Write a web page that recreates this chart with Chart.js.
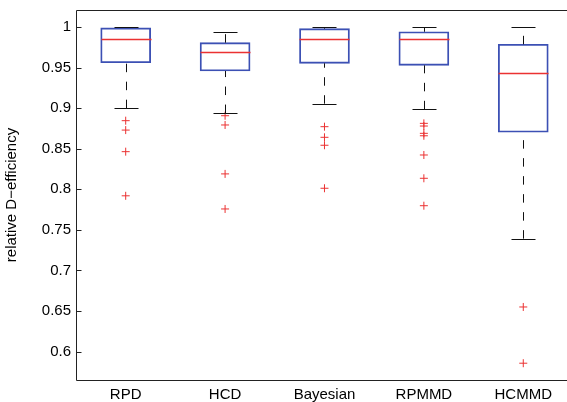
<!DOCTYPE html>
<html>
<head>
<meta charset="utf-8">
<script src="https://cdn.jsdelivr.net/npm/chart.js@4.4.0/dist/chart.umd.min.js"></script>
<style>
  html, body { margin: 0; padding: 0; background: #fff; overflow: hidden; }
  canvas { display: block; }
</style>
</head>
<body>
<canvas id="boxChart" width="567" height="402"></canvas>
<script>
// values
const categories = ['RPD', 'HCD', 'Bayesian', 'RPMMD', 'HCMMD'];
const whiskerLow = [0.900, 0.894, 0.9055, 0.8986, 0.7392];
const boxLow = [0.956, 0.9458, 0.9553, 0.9528, 0.8703];
const medians = [0.985, 0.9696, 0.985, 0.985, 0.9437];
const boxHigh = [0.999, 0.9807, 0.998, 0.9942, 0.9787];
const whiskerHigh = [1.0, 0.9935, 1.0, 1.0, 0.9996];
const outliers = [
    [0.8846, 0.873, 0.8464, 0.792],
    [0.8907, 0.8793, 0.819, 0.7758],
    [0.8772, 0.8641, 0.8543, 0.8013],
    [0.8813, 0.878, 0.869, 0.866, 0.8423, 0.8136, 0.7798],
    [0.655, 0.5857]
];
const yTickValues = [0.6, 0.65, 0.7, 0.75, 0.8, 0.85, 0.9, 0.95, 1];

const blue = 'rgb(60, 80, 180)';
const red = 'rgb(235, 50, 50)';

const boxData = categories.map((c, i) => ({ x: i + 1, y: [boxLow[i], boxHigh[i]] }));
const outlierData = [];
outliers.forEach((list, i) => list.forEach(v => outlierData.push({ x: i + 1, y: v })));

// whiskers, caps, medians and the frame, MATLAB style
const boxExtras = {
    id: 'boxExtras',
    afterDatasetsDraw(chart) {
        const ctx = chart.ctx;
        const xs = chart.scales.x;
        const ys = chart.scales.y;
        const area = chart.chartArea;
        const half = 25;
        const capHalf = 12;
        ctx.save();
        categories.forEach((c, i) => {
            const cx = Math.round(xs.getPixelForValue(i + 1)) + 0.5;
            // whiskers, dashed, drawn from the lower value upward
            ctx.strokeStyle = '#111';
            ctx.lineWidth = 1;
            ctx.setLineDash([8.5, 9.5]);
            ctx.beginPath();
            ctx.moveTo(cx, ys.getPixelForValue(whiskerLow[i]));
            ctx.lineTo(cx, ys.getPixelForValue(boxLow[i]));
            ctx.moveTo(cx, ys.getPixelForValue(boxHigh[i]));
            ctx.lineTo(cx, ys.getPixelForValue(whiskerHigh[i]));
            ctx.stroke();
            ctx.setLineDash([]);
            // caps
            ctx.beginPath();
            [whiskerLow[i], whiskerHigh[i]].forEach(v => {
                const py = Math.round(ys.getPixelForValue(v)) + 0.5;
                ctx.moveTo(cx - capHalf, py);
                ctx.lineTo(cx + capHalf, py);
            });
            ctx.stroke();
            // median
            ctx.strokeStyle = red;
            ctx.lineWidth = 1.4;
            const my = Math.round(ys.getPixelForValue(medians[i])) + 0.5;
            ctx.beginPath();
            ctx.moveTo(cx - half, my);
            ctx.lineTo(cx + half, my);
            ctx.stroke();
        });
        // frame (right side falls outside the picture)
        const l = Math.round(area.left) + 0.5;
        const t = Math.round(area.top) + 0.5;
        const b = Math.round(area.bottom) + 0.5;
        ctx.strokeStyle = '#222';
        ctx.lineWidth = 1;
        ctx.beginPath();
        ctx.moveTo(area.right, t);
        ctx.lineTo(l, t);
        ctx.lineTo(l, b);
        ctx.lineTo(area.right, b);
        // inward y ticks
        ys.ticks.forEach(tk => {
            const py = Math.round(ys.getPixelForValue(tk.value)) + 0.5;
            ctx.moveTo(l, py);
            ctx.lineTo(l + 5, py);
        });
        ctx.stroke();
        ctx.restore();
    }
};

const ctx = document.getElementById('boxChart').getContext('2d');
const myChart = new Chart(ctx, {
    type: 'bar',
    data: {
        datasets: [
            {
                type: 'bar',
                data: boxData,
                backgroundColor: 'rgba(0,0,0,0)',
                borderColor: blue,
                borderWidth: 1.2,
                borderSkipped: false,
                barThickness: 50
            },
            {
                type: 'scatter',
                data: outlierData,
                pointStyle: 'cross',
                radius: 4,
                borderColor: red,
                borderWidth: 1
            }
        ]
    },
    options: {
        responsive: false,
        devicePixelRatio: 1,
        animation: false,
        layout: { autoPadding: false, padding: { top: 10, right: 0, left: 0, bottom: 0 } },
        plugins: {
            legend: { display: false },
            tooltip: { enabled: false }
        },
        scales: {
            x: {
                type: 'linear',
                min: 0.5,
                max: 5.44,
                offset: false,
                grid: { display: false, drawTicks: false },
                border: { display: false },
                afterBuildTicks: s => { s.ticks = categories.map((c, i) => ({ value: i + 1 })); },
                afterFit: s => { s.height = 22; s.paddingLeft = 0; s.paddingRight = 0; },
                ticks: {
                    color: '#000',
                    padding: 6,
                    maxRotation: 0,
                    font: { family: 'Liberation Sans', size: 15 },
                    callback: v => categories[Math.round(v) - 1]
                }
            },
            y: {
                min: 0.565,
                max: 1.021,
                grid: { display: false, drawTicks: false },
                border: { display: false },
                afterBuildTicks: s => { s.ticks = yTickValues.map(v => ({ value: v })); },
                afterFit: s => { s.width = 76; s.paddingTop = 0; s.paddingBottom = 0; },
                title: {
                    display: true,
                    text: 'relative D\u2212efficiency',
                    color: '#000',
                    padding: { top: 3, bottom: 4 },
                    font: { family: 'Liberation Sans', size: 15 }
                },
                ticks: {
                    color: '#000',
                    padding: 5,
                    font: { family: 'Liberation Sans', size: 15 },
                    callback: v => String(+v.toFixed(2))
                }
            }
        }
    },
    plugins: [boxExtras]
});
</script>
</body>
</html>
